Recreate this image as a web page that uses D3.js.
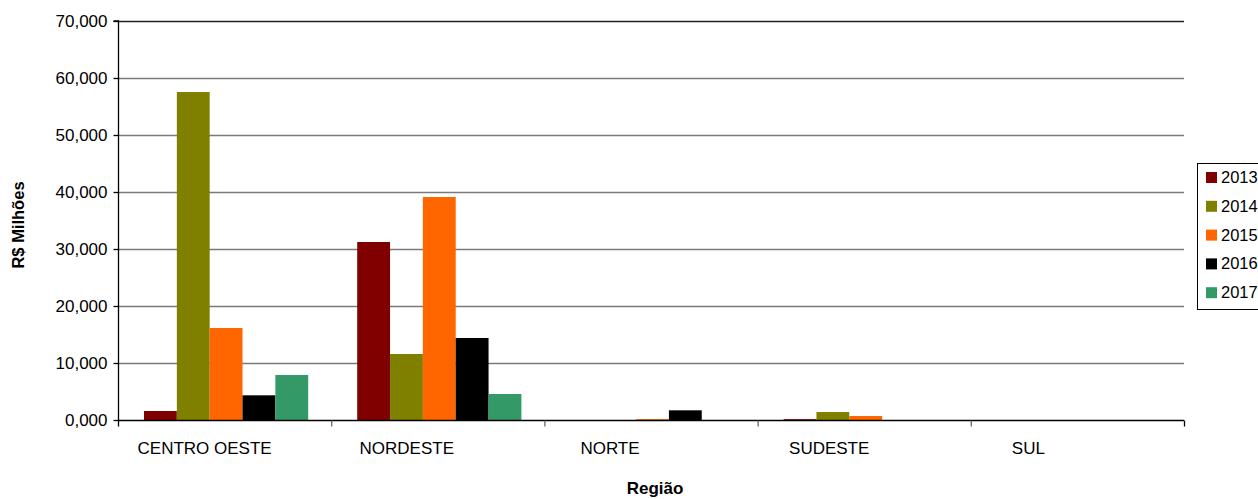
<!DOCTYPE html>
<html>
<head>
<meta charset="utf-8">
<script src="https://cdn.jsdelivr.net/npm/d3@7"></script>
<style>
  html, body { margin: 0; padding: 0; background: #fff; }
  svg { display: block; font-family: "Liberation Sans", Arial, sans-serif; }
</style>
</head>
<body>
<svg id="chart" width="1258" height="499"></svg>
<script>
const regions = ["CENTRO OESTE", "NORDESTE", "NORTE", "SUDESTE", "SUL"];
const years = ["2013", "2014", "2015", "2016", "2017"];
const v2013 = [1580, 31230, 0, 150, 0];
const v2014 = [57540, 11580, 0, 1400, 0];
const v2015 = [16140, 39120, 150, 700, 0];
const v2016 = [4330, 14390, 1700, 0, 0];
const v2017 = [7890, 4560, 0, 0, 0];
const yTickValues = [0, 10000, 20000, 30000, 40000, 50000, 60000, 70000];
const yTickLabels = ["0,000", "10,000", "20,000", "30,000", "40,000", "50,000", "60,000", "70,000"];
const colors = ["#800000", "#808000", "#FF6600", "#000000", "#339966"];

const series = [v2013, v2014, v2015, v2016, v2017];
const svg = d3.select("#chart");

const pLeft = 118, pRight = 1184, pTop = 21, pBottom = 420;
const x = d3.scaleBand().domain(regions).range([pLeft, pRight]).padding(0);
const xs = d3.scaleBand().domain(years).range([26, x.bandwidth() - 23]).padding(0);
const y = d3.scaleLinear().domain([0, 70000]).range([pBottom, pTop]);

// gridlines
svg.append("g").selectAll("line").data(yTickValues.slice(1)).join("line")
  .attr("x1", pLeft).attr("x2", pRight)
  .attr("y1", d => y(d) + 0.5).attr("y2", d => y(d) + 0.5)
  .attr("stroke", d => d === 70000 ? "#222" : "#7a7a7a")
  .attr("stroke-width", 1.3);

// bars
const data = [];
regions.forEach((r, ri) => years.forEach((yr, yi) => data.push({ r, yr, yi, v: series[yi][ri] })));
svg.append("g").selectAll("rect").data(data.filter(d => d.v > 0)).join("rect")
  .attr("x", d => x(d.r) + xs(d.yr))
  .attr("width", xs.bandwidth())
  .attr("y", d => y(d.v))
  .attr("height", d => y(0) - y(d.v))
  .attr("fill", d => colors[d.yi]);

// y axis
const yAxis = d3.axisLeft(y).tickValues(yTickValues)
  .tickFormat((d, i) => yTickLabels[i]).tickSize(5).tickPadding(6);
const gy = svg.append("g").attr("transform", `translate(${pLeft + 0.5},0)`).call(yAxis);
gy.select(".domain").attr("stroke", "#000").attr("stroke-width", 1.3).attr("d", `M-5,${pTop}H0V${pBottom}`);
gy.selectAll(".tick line").attr("stroke", "#000").attr("stroke-width", 1.3);
gy.selectAll(".tick text").attr("font-size", "17px").attr("fill", "#000")
  .attr("font-family", "Liberation Sans, Arial, sans-serif");

// x axis
const gx = svg.append("g").attr("transform", `translate(0,${pBottom + 0.5})`);
gx.append("line").attr("x1", pLeft).attr("x2", pRight).attr("stroke", "#000").attr("stroke-width", 1.3);
const boundaries = regions.map(r => x(r)).concat([pRight]);
gx.selectAll("line.tk").data(boundaries).join("line").attr("class", "tk")
  .attr("x1", d => d + 0.5).attr("x2", d => d + 0.5).attr("y1", 0).attr("y2", 6)
  .attr("stroke", (d, i) => i === 0 || i === boundaries.length - 1 ? "#000" : "#666")
  .attr("stroke-width", 1.3);
const labelShift = [-20, -31, -41, -35, -49];
gx.selectAll("text").data(regions).join("text")
  .attr("x", (d, i) => x(d) + x.bandwidth() / 2 + labelShift[i])
  .attr("y", 33)
  .attr("text-anchor", "middle")
  .attr("font-size", "17px")
  .attr("fill", "#000")
  .text(d => d);

// axis titles
svg.append("text")
  .attr("transform", "translate(24,225) rotate(-90)")
  .attr("text-anchor", "middle")
  .attr("font-size", "16.5px").attr("font-weight", "bold")
  .text("R$ Milhões");
svg.append("text")
  .attr("x", 655).attr("y", 494)
  .attr("text-anchor", "middle")
  .attr("font-size", "17px").attr("font-weight", "bold")
  .text("Região");

// legend
const lg = svg.append("g").attr("transform", "translate(1197,163)");
lg.append("rect").attr("x", 0.5).attr("y", 0.5).attr("width", 80).attr("height", 146)
  .attr("fill", "#fff").attr("stroke", "#000").attr("stroke-width", 1);
const items = lg.selectAll("g.it").data(years).join("g").attr("class", "it")
  .attr("transform", (d, i) => `translate(0,${14 + i * 28.8})`);
items.append("rect").attr("x", 9).attr("y", -5).attr("width", 11).attr("height", 11)
  .attr("fill", (d, i) => colors[i]);
items.append("text").attr("x", 24).attr("y", 6).attr("font-size", "16.5px").text(d => d);
</script>
</body>
</html>
